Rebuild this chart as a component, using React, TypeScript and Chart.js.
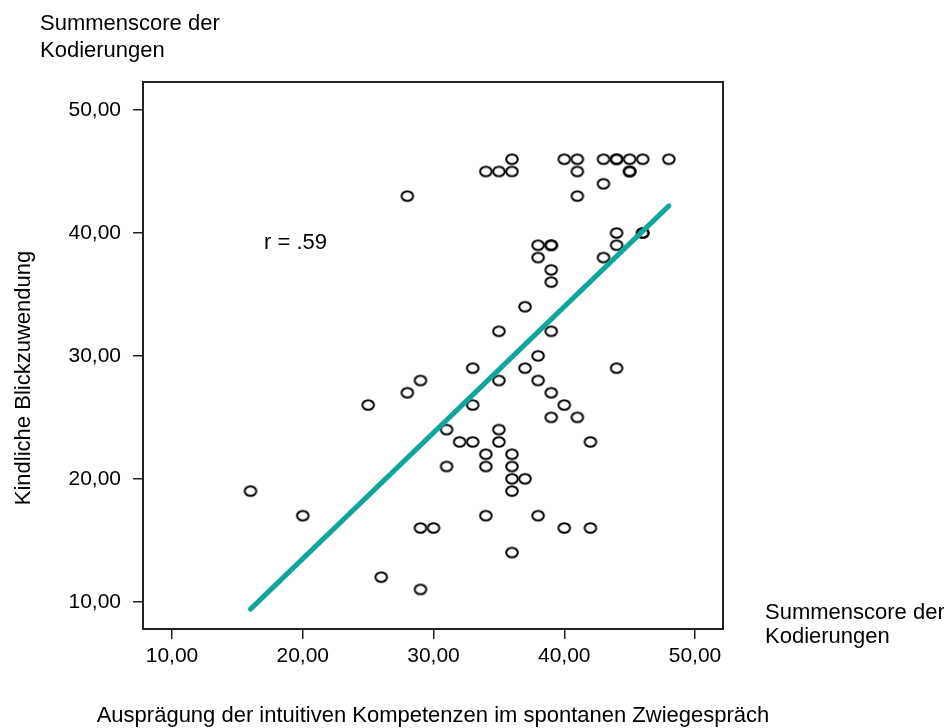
import React, { useEffect, useRef } from "react";
import { Chart, registerables } from "chart.js";

Chart.register(...registerables);

// Observed points (x = Ausprägung der intuitiven Kompetenzen, y = Kindliche Blickzuwendung)
const pointsX = [
  36, 34, 35, 36, 40, 41, 41, 43, 44, 44, 45, 46, 48, 45, 45, 43, 41, 28,
  44, 46, 46, 44, 43, 38, 39, 39, 38, 39, 39, 37, 35, 39, 33, 37, 44, 38,
  29, 35, 38, 28, 39, 40, 39, 41, 25, 33, 31, 35, 32, 33, 35, 42, 34, 36,
  34, 36, 31, 36, 37, 36, 16, 20, 34, 38, 29, 30, 40, 42, 36, 26, 29,
];
const pointsY = [
  46, 45, 45, 45, 46, 46, 45, 46, 46, 46, 46, 46, 46, 45, 45, 44, 43, 43,
  40, 40, 40, 39, 38, 39, 39, 39, 38, 37, 36, 34, 32, 32, 29, 29, 29, 30,
  28, 28, 28, 27, 27, 26, 25, 25, 26, 26, 24, 24, 23, 23, 23, 23, 22, 22,
  21, 21, 21, 20, 20, 19, 19, 17, 17, 17, 16, 16, 16, 16, 14, 12, 11,
];

// Fit line (end points)
const fitX = [16, 48];
const fitY = [9.4, 42.2];

const xTicks = [10, 20, 30, 40, 50];
const yTicks = [10, 20, 30, 40, 50];

const axisTitleX = "Ausprägung der intuitiven Kompetenzen im spontanen Zwiegespräch";
const axisTitleY = "Kindliche Blickzuwendung";
const scoreLabel = ["Summenscore der", "Kodierungen"];
const rLabel = "r = .59";

const FONT = '"Liberation Sans", Arial, sans-serif';

function fmt(v: number) {
  return v.toFixed(2).replace(".", ",");
}

function makeMarker() {
  const c = document.createElement("canvas");
  c.width = 16;
  c.height = 14;
  const ctx = c.getContext("2d")!;
  ctx.beginPath();
  ctx.ellipse(8, 7, 5.8, 4.8, 0, 0, Math.PI * 2);
  ctx.lineWidth = 2;
  ctx.strokeStyle = "#000";
  ctx.stroke();
  return c;
}

const textPlugin = {
  id: "extraTexts",
  afterDraw(chart: any) {
    const ctx = chart.ctx as CanvasRenderingContext2D;
    const a = chart.chartArea;
    ctx.save();
    // frame
    ctx.strokeStyle = "#222";
    ctx.lineWidth = 2;
    ctx.strokeRect(a.left, a.top, a.right - a.left, a.bottom - a.top);

    ctx.fillStyle = "#000";
    ctx.font = `22px ${FONT}`;
    ctx.textBaseline = "alphabetic";
    ctx.textAlign = "left";
    ctx.fillText(scoreLabel[0], 40, 30);
    ctx.fillText(scoreLabel[1], 40, 57);
    ctx.fillText(scoreLabel[0], 765, 619);
    ctx.fillText(scoreLabel[1], 765, 643);
    ctx.fillText(rLabel, 264, 249);

    ctx.textAlign = "center";
    ctx.fillText(axisTitleX, 433, 722);

    ctx.translate(30, 378);
    ctx.rotate(-Math.PI / 2);
    ctx.fillText(axisTitleY, 0, 0);
    ctx.restore();
  },
};

export default function App() {
  const ref = useRef<HTMLCanvasElement>(null);

  useEffect(() => {
    const marker = makeMarker();
    const scatterData = pointsX.map((x, i) => ({ x, y: pointsY[i] }));
    const fitData = fitX.map((x, i) => ({ x, y: fitY[i] }));

    const chart = new Chart(ref.current!, {
      type: "scatter",
      data: {
        datasets: [
          {
            type: "line",
            data: fitData,
            borderColor: "#10a69c",
            borderWidth: 5,
            borderCapStyle: "round",
            pointRadius: 0,
            fill: false,
            order: 0,
          } as any,
          {
            data: scatterData,
            pointStyle: marker as any,
            pointRadius: 6,
            order: 1,
          },
        ],
      },
      options: {
        animation: false,
        responsive: true,
        maintainAspectRatio: false,
        layout: { padding: { left: 0, top: 82, right: 221, bottom: 0 } },
        plugins: {
          legend: { display: false },
          tooltip: { enabled: false },
        },
        scales: {
          x: {
            type: "linear",
            min: 7.78,
            max: 52.14,
            afterFit(scale: any) {
              scale.height = 99;
            },
            afterBuildTicks(scale: any) {
              scale.ticks = xTicks.map((v) => ({ value: v }));
            },
            border: { display: false },
            grid: {
              drawOnChartArea: false,
              drawTicks: true,
              tickLength: 10,
              color: "#222",
              lineWidth: 1.5,
            },
            ticks: {
              padding: 5,
              color: "#000",
              font: { family: FONT, size: 21 },
              maxRotation: 0,
              callback: (v: any) => fmt(Number(v)),
            },
          },
          y: {
            type: "linear",
            min: 7.78,
            max: 52.28,
            afterFit(scale: any) {
              scale.width = 143;
            },
            afterBuildTicks(scale: any) {
              scale.ticks = yTicks.map((v) => ({ value: v }));
            },
            border: { display: false },
            grid: {
              drawOnChartArea: false,
              drawTicks: true,
              tickLength: 10,
              color: "#222",
              lineWidth: 1.5,
            },
            ticks: {
              padding: 12,
              color: "#000",
              font: { family: FONT, size: 21 },
              callback: (v: any) => fmt(Number(v)),
            },
          },
        },
      },
      plugins: [textPlugin],
    });
    return () => chart.destroy();
  }, []);

  return (
    <div style={{ position: "absolute", left: 0, top: 0, width: 944, height: 728, background: "#fff" }}>
      <canvas ref={ref} />
    </div>
  );
}
